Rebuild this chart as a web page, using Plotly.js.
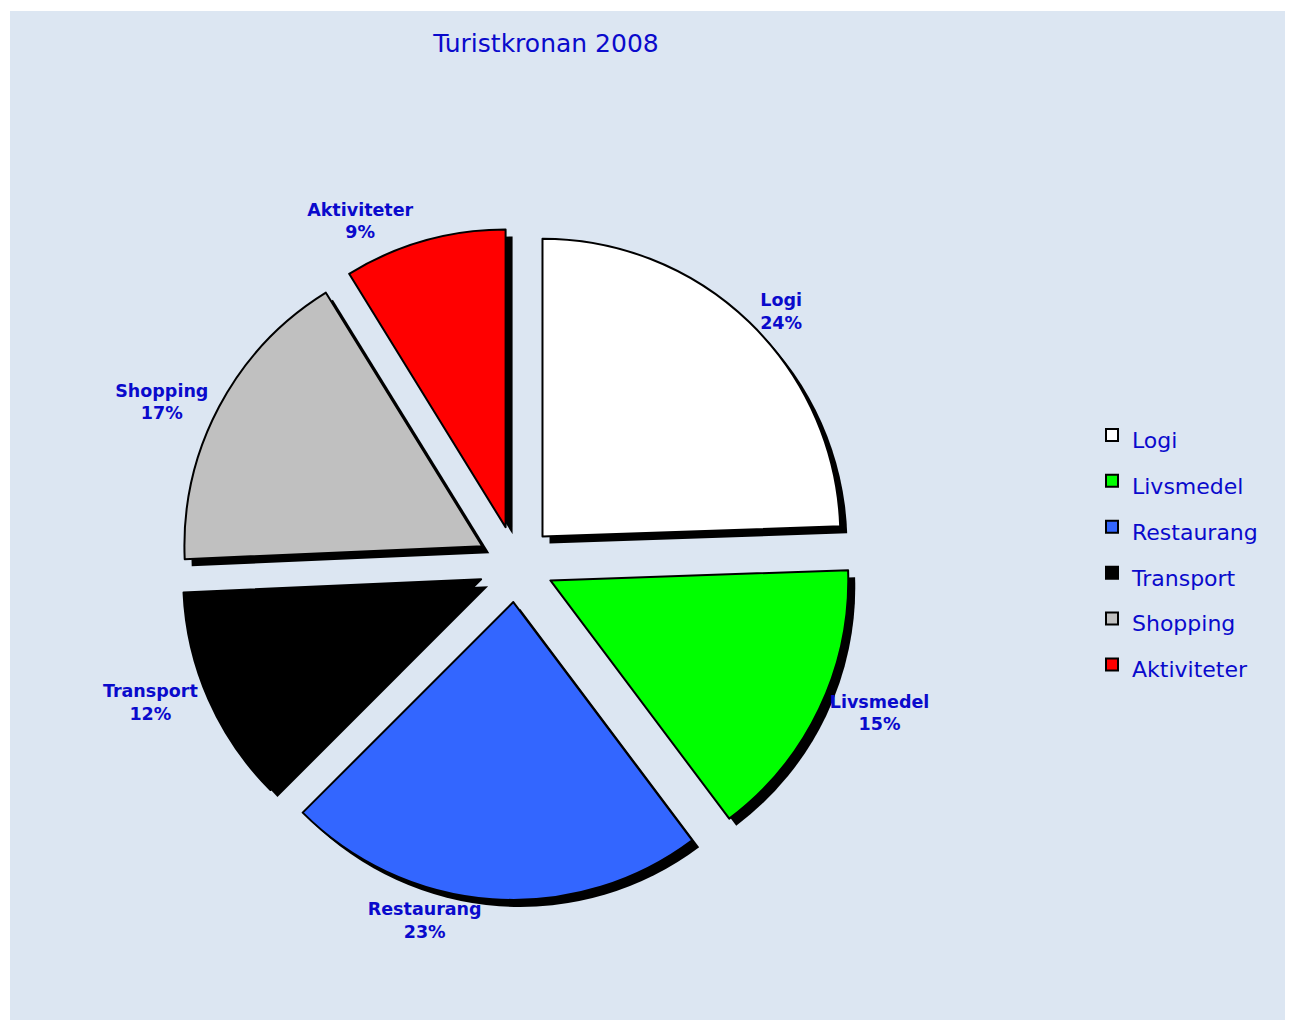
<!DOCTYPE html>
<html>
<head>
<meta charset="utf-8">
<script src="https://cdn.plot.ly/plotly-3.0.1.min.js"></script>
<style>html,body{margin:0;padding:0;background:#fff;}#chart{width:1290px;height:1021px;}</style>
</head>
<body>
<div id="chart"></div>
<script>
const categories = ["Logi", "Livsmedel", "Restaurang", "Transport", "Shopping", "Aktiviteter"];
const shares = [24.45, 15.3, 22.75, 11.8, 16.9, 8.8];
const sliceColors = ["#ffffff", "#00ff00", "#3366ff", "#000000", "#c0c0c0", "#ff0000"];
const chartTitle = "Turistkronan 2008";

const W = 1290, H = 1021;
const cx = 516, cy = 564, box = 672, shadowOff = 7;
const pullFrac = 0.128;
const pulls = categories.map(() => pullFrac);

function dom(x, y) {
  return {
    x: [(x - box / 2) / W, (x + box / 2) / W],
    y: [(H - y - box / 2) / H, (H - y + box / 2) / H]
  };
}

const blue = "#0a0acc";
const font = "'DejaVu Sans', Verdana, sans-serif";
// legend entries: visible text 22px, legend row pitch driven by legend font size
const legendLabels = categories.map(c => '<span style="font-size:22px">' + c + '</span>');

const shadow = {
  type: "pie",
  labels: legendLabels,
  values: shares,
  sort: false,
  direction: "clockwise",
  rotation: 0,
  pull: pulls,
  marker: { colors: categories.map(() => "#000000"), line: { width: 0 } },
  textinfo: "none",
  hoverinfo: "skip",
  showlegend: false,
  domain: dom(cx + shadowOff, cy + shadowOff)
};

const main = {
  type: "pie",
  labels: legendLabels,
  customdata: categories,
  values: shares,
  sort: false,
  direction: "clockwise",
  rotation: 0,
  pull: pulls,
  marker: { colors: sliceColors, line: { color: "#000000", width: 2 } },
  textposition: "outside",
  texttemplate: "%{customdata}<br>%{percent:.0%}",
  outsidetextfont: { family: font, size: 17.5, color: blue, weight: "bold" },
  domain: dom(cx, cy),
  automargin: false
};

const layout = {
  width: W,
  height: H,
  margin: { l: 0, r: 0, t: 0, b: 0 },
  paper_bgcolor: "#ffffff",
  shapes: [{
    type: "rect", xref: "paper", yref: "paper", layer: "below",
    x0: 10 / W, x1: 1285 / W, y0: 1 - 1020 / H, y1: 1 - 11 / H,
    fillcolor: "#dce6f2", line: { width: 0 }
  }],
  title: {
    text: chartTitle,
    x: 546 / W, xanchor: "center",
    y: 1 - 43 / H, yanchor: "middle",
    font: { family: font, size: 25, color: blue }
  },
  showlegend: true,
  legend: {
    x: 1092 / W, xanchor: "left",
    y: 1 - 550 / H, yanchor: "middle",
    bgcolor: "rgba(0,0,0,0)",
    font: { family: font, size: 33, color: blue },
    traceorder: "normal"
  }
};

Plotly.newPlot("chart", [shadow, main], layout, { displayModeBar: false, staticPlot: true });
</script>
</body>
</html>
